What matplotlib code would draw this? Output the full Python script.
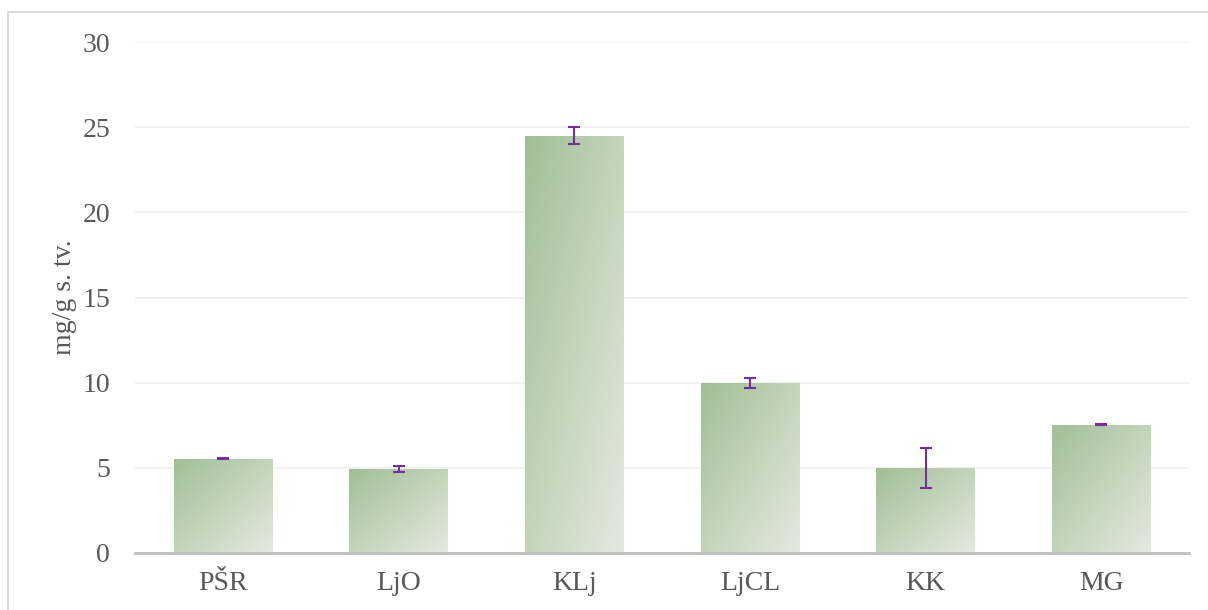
import numpy as np
import matplotlib
matplotlib.use("Agg")
import matplotlib.pyplot as plt
from matplotlib.colors import LinearSegmentedColormap
from matplotlib.patches import Rectangle

# data
sites = ["PŠR", "LjO", "KLj", "LjCL", "KK", "MG"]
values = [5.52, 4.93, 24.49, 9.98, 4.99, 7.52]
errors = [0.03, 0.15, 0.5, 0.3, 1.15, 0.03]
yticks = [0, 5, 10, 15, 20, 25, 30]

plt.rcParams["font.family"] = ["Liberation Serif", "DejaVu Serif"]

fig = plt.figure(figsize=(12.08, 6.10), dpi=100)
ax = fig.add_axes([135 / 1208, 1 - 553 / 610, (1189 - 135) / 1208, (553 - 42) / 610])

# outer chart border (left + top visible in reference)
fig.add_artist(Rectangle((8 / 1208, -0.1), 1.2, 1 - 12 / 610 + 0.1,
                         transform=fig.transFigure, fill=False,
                         edgecolor="#d9d9d9", lw=1.3))

cmap = LinearSegmentedColormap.from_list("grn", ["#a3be97", "#e3eadf"])
x = np.arange(len(sites))
width = 0.56
bars = ax.bar(x, values, width=width, color="none", zorder=2)

# diagonal gradient inside each bar
u, v = np.meshgrid(np.linspace(0, 1, 64), np.linspace(1, 0, 64))
grad = (u + (1 - v)) / 2
for b in bars:
    x0, y0 = b.get_x(), b.get_y()
    im = ax.imshow(grad, cmap=cmap, vmin=0, vmax=1, aspect="auto",
                   extent=[x0, x0 + b.get_width(), y0, y0 + b.get_height()],
                   origin="upper", zorder=2, interpolation="bilinear")
    im.set_clip_path(b)

ax.errorbar(x, values, yerr=errors, fmt="none", ecolor="#7030a0",
            elinewidth=1.5, capsize=4.5, capthick=1.5, zorder=3)

ax.set_xlim(-0.5, len(sites) - 0.5)
ax.set_ylim(0, 30)
ax.set_yticks(yticks)
ax.set_xticks(x)
ax.set_xticklabels(sites)
ax.grid(axis="y", color="#f0f0f0", lw=1.2, zorder=0)
ax.set_axisbelow(True)
for s in ["top", "right", "left"]:
    ax.spines[s].set_visible(False)
ax.spines["bottom"].set_color("#bfbfbf")
ax.spines["bottom"].set_linewidth(2)
ax.tick_params(axis="both", length=0, labelsize=20, labelcolor="#595959")
ax.tick_params(axis="y", pad=18)
ax.tick_params(axis="x", pad=13)
ax.set_ylabel("mg/g s. tv.", fontsize=20, color="#595959", labelpad=4)

fig.savefig("out.png", dpi=100)
